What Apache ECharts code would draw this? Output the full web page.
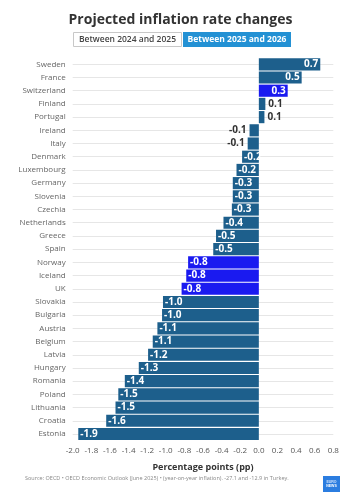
<!DOCTYPE html>
<html><head><meta charset="utf-8">
<script src="https://cdn.jsdelivr.net/npm/echarts@6/dist/echarts.min.js"></script>
<style>html,body{margin:0;padding:0;background:#fff}#c{width:361px;height:500px}</style>
</head><body><div id="c"></div>
<script>
const countries = ["Sweden","France","Switzerland","Finland","Portugal","Ireland","Italy","Denmark","Luxembourg","Germany","Slovenia","Czechia","Netherlands","Greece","Spain","Norway","Iceland","UK","Slovakia","Bulgaria","Austria","Belgium","Latvia","Hungary","Romania","Poland","Lithuania","Croatia","Estonia"];
const changes = [0.66,0.46,0.31,0.07,0.06,-0.10,-0.12,-0.18,-0.24,-0.28,-0.28,-0.29,-0.38,-0.46,-0.49,-0.76,-0.78,-0.83,-1.03,-1.04,-1.09,-1.14,-1.19,-1.29,-1.44,-1.51,-1.54,-1.64,-1.94];
const highlighted = ["Switzerland","Norway","Iceland","UK"];
const xTicks = {min:-2.0, max:0.8, interval:0.2};

const BASE = '#1d5f8c', HL = '#1a1af0';
const FONT = '"Open Sans", sans-serif';
function fmt(v){const r=Math.round(Math.abs(v)*10)/10;return (v<0?'-':'')+r.toFixed(1);}

const data = changes.map((v,i)=>{
  const hl = highlighted.includes(countries[i]);
  const inside = Math.abs(v) >= 0.15;
  let pos;
  if (v >= 0) pos = inside ? 'insideRight' : 'right';
  else pos = inside ? 'insideLeft' : 'left';
  return {
    value: v,
    itemStyle: {color: hl ? HL : BASE},
    label: {show:true, position: pos, distance: inside?2:3, color: inside?'#fff':'#333',
      fontFamily: FONT, fontWeight:'bold', fontSize:10, formatter: ()=>fmt(v)}
  };
});

const chart = echarts.init(document.getElementById('c'), null, {renderer:'canvas'});
chart.setOption({
  animation:false,
  backgroundColor:'#fff',
  title:[
    {text:'Projected inflation rate changes', left:'center', top:8,
     textStyle:{fontFamily:FONT, fontWeight:'bold', fontSize:14, color:'#333'}},
  ],
  graphic:[
    {type:'rect', shape:{x:73.5,y:32.5,width:108,height:14}, style:{fill:'#fff', stroke:'#c8c8c8', lineWidth:1}},
    {type:'text', style:{x:127.5,y:39.5,text:'Between 2024 and 2025', align:'center', verticalAlign:'middle', font:'600 8.5px "Open Sans", sans-serif', fill:'#444'}},
    {type:'rect', shape:{x:183,y:32,width:108,height:15}, style:{fill:'#2391d4'}},
    {type:'text', style:{x:237,y:39.5,text:'Between 2025 and 2026', align:'center', verticalAlign:'middle', font:'bold 8.5px "Open Sans", sans-serif', fill:'#fff'}},
    {type:'text', style:{x:25,y:478,text:'Source: OECD • OECD Economic Outlook (June 2025) • (year-on-year inflation). -27.1 and -12.9 in Turkey.', verticalAlign:'middle', font:'5.5px "Open Sans", sans-serif', fill:'#888'}},
    {type:'rect', shape:{x:323,y:476,width:17,height:16}, style:{fill:'#2b7de0'}},
    {type:'text', style:{x:331.5,y:482,text:'EURO', align:'center', verticalAlign:'middle', font:'bold 3.5px sans-serif', fill:'#cfe2fb'}},
    {type:'text', style:{x:331.5,y:486,text:'NEWS', align:'center', verticalAlign:'middle', font:'bold 3.5px sans-serif', fill:'#fff'}}
  ],
  grid:{left:72.7, right:27.7, top:57.7, bottom:59.4, containLabel:false},
  xAxis:{type:'value', min:xTicks.min, max:xTicks.max, interval:xTicks.interval,
    axisLine:{show:false}, axisTick:{show:false}, splitLine:{show:false},
    axisLabel:{color:'#555', fontFamily:FONT, fontSize:8, margin:6, formatter:v=>v.toFixed(1)},
    name:'Percentage points (pp)', nameLocation:'middle', nameGap:22,
    nameTextStyle:{fontFamily:FONT, fontWeight:'bold', fontSize:9, color:'#333'}},
  yAxis:{type:'category', data:countries, inverse:true,
    axisLine:{show:false}, axisTick:{show:false}, splitLine:{show:false},
    axisLabel:{color:'#666', fontFamily:FONT, fontSize:8, margin:7}},
  series:[
    {type:'bar', data:data, barCategoryGap:'8%', z:3,
     markLine:{z:1, silent:true, symbol:['none','none'], label:{show:false},
       lineStyle:{color:'#e6e6e6', type:'solid', width:1},
       data: countries.map(c=>({yAxis:c}))}}
  ]
});
</script></body></html>
